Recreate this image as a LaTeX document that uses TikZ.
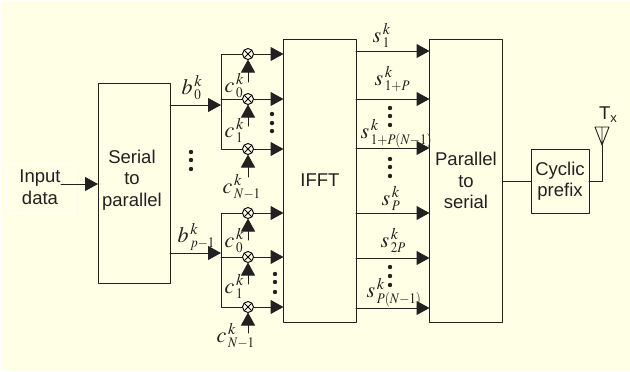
\documentclass[tikz,border=0pt]{standalone}
\usepackage{mathptmx}
\usepackage{graphicx}
\usepackage{fontspec}
\setmainfont{Liberation Sans}
\usetikzlibrary{arrows.meta}
\definecolor{ffffee}{rgb}{1,1,0.9}
\definecolor{qqqqqq}{rgb}{0.13,0.13,0.13}
\newcommand{\subsup}[2]{$#1^{\,k}_{\,\scalebox{.8}[.9]{$\scriptstyle #2$}}$}
\tikzset{
  block/.style={draw=qqqqqq,line width=1pt,outer sep=0pt,inner sep=0pt},
  lbl/.style={inner sep=0pt,font=\fontsize{18.5}{21.5}\selectfont,align=center,text=qqqqqq},
  sym/.style={inner sep=0pt,anchor=base west,font=\fontsize{22}{24}\selectfont,text=qqqqqq},
  mix/.style={draw=black,line width=0.9pt,circle,minimum size=11pt,inner sep=0pt,outer sep=0pt,
    path picture={\draw[line width=0.8pt] (path picture bounding box.north west)--(path picture bounding box.south east)
      (path picture bounding box.north east)--(path picture bounding box.south west);}}
}
\begin{document}
\begin{tikzpicture}[line cap=round,line join=round,>={Triangle[length=13pt,width=14pt]},x=1pt,y=-1pt,line width=1pt,color=qqqqqq]
\useasboundingbox (0,0) rectangle (630,372);
\fill[ffffee] (2,1) rectangle (630,370);
% blocks
\draw[white,line width=1pt] (6,163) rectangle (74,213);
\node[lbl] (input) at (40,187) {Input\\data};
\node[block,minimum width=72pt,minimum height=200pt] (s2p) at (134,183) {};
\node[lbl] (s2ptext) at (132,180) {Serial\\to\\parallel};
\node[block,lbl,minimum width=73pt,minimum height=283pt] (fft) at (320,180.5) {IFFT};
\node[block,lbl,minimum width=73pt,minimum height=283pt] (p2s) at (466,180.5) {Parallel\\to\\serial};
\node[block,lbl,minimum width=58pt,minimum height=64pt] (prefix) at (560,181) {Cyclic\\prefix};
% input side
\coordinate (inputend) at (61,184);
\draw[->] (inputend) -- (inputend -| s2p.west);
\coordinate (busa) at (221,105);
\coordinate (busb) at (221,253);
\draw[->] (busa -| s2p.east) -- (busa);
\draw[->] (busb -| s2p.east) -- (busb);
% upper mixers
\node[mix] (mixa0) at (248,54) {};
\node[mix] (mixa1) at (248,99) {};
\node[mix] (mixa2) at (248,149) {};
\coordinate (ja0) at (221,54);
\coordinate (ja1) at (221,99);
\coordinate (ja2) at (221,149);
\draw (mixa0) -- (ja0) -- (ja2) -- (mixa2);
\draw (ja1) -- (mixa1);
\draw[->] (mixa0) -- (mixa0 -| fft.west);
\draw[->] (mixa1) -- (mixa1 -| fft.west);
\draw[->] (mixa2) -- (mixa2 -| fft.west);
\coordinate (ca0) at (248,82);
\coordinate (ca1) at (248,126);
\coordinate (ca2) at (248,177);
\draw[->] (ca0) -- (mixa0);
\draw[->] (ca1) -- (mixa1);
\draw[->] (ca2) -- (mixa2);
% lower mixers
\node[mix] (mixb0) at (248,213) {};
\node[mix] (mixb1) at (248,257) {};
\node[mix] (mixb2) at (248,307) {};
\coordinate (jb0) at (221,213);
\coordinate (jb1) at (221,257);
\coordinate (jb2) at (221,307);
\draw (mixb0) -- (jb0) -- (jb2) -- (mixb2);
\draw (jb1) -- (mixb1);
\draw[->] (mixb0) -- (mixb0 -| fft.west);
\draw[->] (mixb1) -- (mixb1 -| fft.west);
\draw[->] (mixb2) -- (mixb2 -| fft.west);
\coordinate (cb0) at (248,240);
\coordinate (cb1) at (248,284);
\coordinate (cb2) at (248,333);
\draw[->] (cb0) -- (mixb0);
\draw[->] (cb1) -- (mixb1);
\draw[->] (cb2) -- (mixb2);
% IFFT outputs
\coordinate (sa) at (356,51);
\coordinate (sb) at (356,99);
\coordinate (sc) at (356,148);
\coordinate (sd) at (356,213);
\coordinate (se) at (356,258);
\coordinate (sf) at (356,308);
\draw[->] (sa) -- (sa -| p2s.west);
\draw[->] (sb) -- (sb -| p2s.west);
\draw[->] (sc) -- (sc -| p2s.west);
\draw[->] (sd) -- (sd -| p2s.west);
\draw[->] (se) -- (se -| p2s.west);
\draw[->] (sf) -- (sf -| p2s.west);
% output and antenna
\coordinate (anttip) at (602,145);
\coordinate (antl) at (595,127);
\coordinate (antr) at (609,127);
\coordinate (antm) at (602,127);
\draw (prefix.west -| p2s.east) -- (prefix.west);
\draw (prefix.east) -| (anttip);
\draw[line width=0.9pt] (antl) -- (antr) -- (anttip) -- cycle (antm) -- (anttip);
\node[lbl] (tx) at (608,115) {T\raisebox{-3pt}{\fontsize{13}{13}\selectfont x}};
% dots
\fill (191,152) circle (2.2pt) (191,160) circle (2.2pt) (191,169) circle (2.2pt);
\fill (272,114) circle (2.2pt) (272,123) circle (2.2pt) (272,131) circle (2.2pt);
\fill (275,274) circle (2.2pt) (275,282) circle (2.2pt) (275,292) circle (2.2pt);
\fill (390,108) circle (2.2pt) (390,116) circle (2.2pt) (390,125) circle (2.2pt);
\fill (390,159) circle (2.2pt) (390,167) circle (2.2pt) (390,176) circle (2.2pt);
\fill (390,267) circle (2.2pt) (390,276) circle (2.2pt) (390,285) circle (2.2pt);
% symbols
\node[sym] (ba) at (181,94) {\subsup{b}{0}};
\node[sym] (bb) at (177,242) {\subsup{b}{p-1}};
\node[sym] (ca) at (224,92) {\subsup{c}{0}};
\node[sym] (cb) at (224,137) {\subsup{c}{1}};
\node[sym] (cc) at (222,193) {\subsup{c}{N-1}};
\node[sym] (cd) at (224,247) {\subsup{c}{0}};
\node[sym] (ce) at (224,293) {\subsup{c}{1}};
\node[sym] (cf) at (216,342) {\subsup{c}{N-1}};
\node[sym] (s1) at (372,42) {\subsup{s}{1}};
\node[sym] (s2) at (374,85) {\subsup{s}{1+P}};
\node[sym] (s3) at (360,138) {\subsup{s}{1+P(N-1)}};
\node[sym] (s4) at (381,205) {\subsup{s}{P}};
\node[sym] (s5) at (380,247) {\subsup{s}{2P}};
\node[sym] (s6) at (366,297) {\subsup{s}{P(N-1)}};
\end{tikzpicture}
\end{document}
